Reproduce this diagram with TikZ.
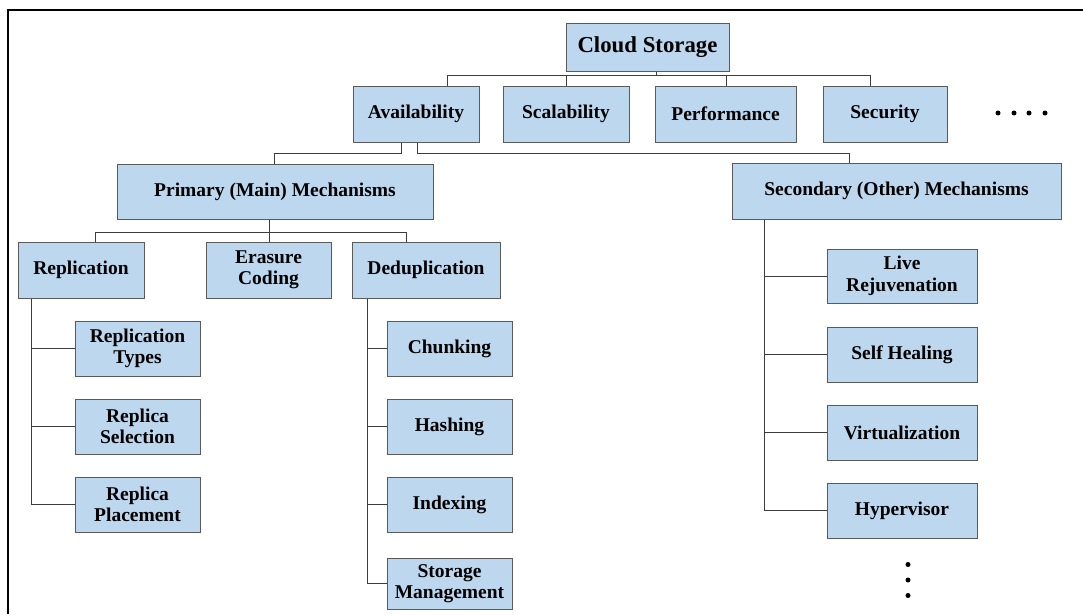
\documentclass[tikz,border=0pt]{standalone}
\usepackage{fontspec}
\setmainfont{Liberation Serif}
\definecolor{boxfill}{RGB}{189,215,238}
\definecolor{boxline}{RGB}{90,90,90}
\definecolor{connline}{RGB}{60,60,60}
\begin{document}
\begin{tikzpicture}[x=1pt,y=-1pt,
  box/.style={draw=boxline,fill=boxfill,line width=1pt,inner sep=0pt,align=center,
    font=\bfseries\fontsize{19.5}{21.5}\selectfont},
  conn/.style={draw=connline,line width=0.9pt},
  dotmark/.style={circle,fill=black,inner sep=0pt,minimum size=5pt}]
\useasboundingbox (0,0) rectangle (1083,614);
\draw[line width=2pt] (8,614) -- (8,10) -- (1083,10);

% level 0/1
\node[box,minimum width=163pt,minimum height=48pt,font=\bfseries\fontsize{22.8}{25}\selectfont] (cs) at (647.5,47) {Cloud Storage};
\node[box,minimum width=126pt,minimum height=56pt] (avail) at (416,114) {Availability};
\node[box,minimum width=126pt,minimum height=56pt] (scal) at (566,114) {Scalability};
\node[box,minimum width=141pt,minimum height=56pt] (perf) at (725.5,114) {Performance};
\node[box,minimum width=124pt,minimum height=56pt] (secu) at (885,114) {Security};
\node[dotmark] (d1) at (998,113) {};
\node[dotmark] (d2) at (1014,113) {};
\node[dotmark] (d3) at (1029,113) {};
\node[dotmark] (d4) at (1045,113) {};

% level 2
\node[box,minimum width=316pt,minimum height=55pt] (prim) at (275,191.5) {Primary (Main) Mechanisms};
\node[box,minimum width=329pt,minimum height=56pt] (sec) at (896.5,191) {Secondary (Other) Mechanisms};

% level 3
\node[box,minimum width=126pt,minimum height=56pt] (rep) at (81,270) {Replication};
\node[box,minimum width=125pt,minimum height=56pt] (ero) at (268.5,270) {Erasure\\Coding};
\node[box,minimum width=148pt,minimum height=56pt] (ded) at (426,270) {Deduplication};

% replication children
\node[box,minimum width=125pt,minimum height=55pt] (rt) at (137.5,348.5) {Replication\\Types};
\node[box,minimum width=125pt,minimum height=55pt] (rs) at (137.5,426.5) {Replica\\Selection};
\node[box,minimum width=125pt,minimum height=55pt] (rp) at (137.5,504.5) {Replica\\Placement};

% dedup children
\node[box,minimum width=125pt,minimum height=55pt] (ch) at (449.5,348.5) {Chunking};
\node[box,minimum width=125pt,minimum height=55pt] (ha) at (449.5,426.5) {Hashing};
\node[box,minimum width=125pt,minimum height=55pt] (ix) at (449.5,504.5) {Indexing};
\node[box,minimum width=125pt,minimum height=51pt] (sm) at (449.5,583.5) {Storage\\Management};

% secondary children
\node[box,minimum width=150pt,minimum height=54pt] (lr) at (902,276) {Live\\Rejuvenation};
\node[box,minimum width=150pt,minimum height=55pt] (sh) at (902,354.5) {Self Healing};
\node[box,minimum width=150pt,minimum height=55pt] (vi) at (902,432.5) {Virtualization};
\node[box,minimum width=150pt,minimum height=55pt] (hy) at (902,510.5) {Hypervisor};
\node[dotmark] (v1) at (908,564.5) {};
\node[dotmark] (v2) at (908,580) {};
\node[dotmark] (v3) at (908,595.5) {};

% connectors level 1
\draw[conn] (cs.south -| 656,0) -- (656,75);
\draw[conn] (avail.north -| 447,0) -- (447,75) -- (870,75) -- (secu.north -| 870,0);
\draw[conn] (scal.north -| 566,0) -- (566,75);
\draw[conn] (perf.north -| 726,0) -- (726,75);

% availability to mechanisms
\draw[conn] (avail.south -| 401,0) -- (401,153) -- (274,153) -- (prim.north -| 274,0);
\draw[conn] (avail.south -| 417,0) -- (417,153) -- (849,153) -- (sec.north -| 849,0);

% primary to children
\draw[conn] (prim.south -| 269,0) -- (ero.north -| 269,0);
\draw[conn] (rep.north -| 95,0) -- (95,232) -- (406,232) -- (ded.north -| 406,0);

% replication tree
\draw[conn] (rep.south -| 31,0) |- (rp.west);
\draw[conn] (rt.west -| 31,0) -- (rt.west);
\draw[conn] (rs.west -| 31,0) -- (rs.west);

% dedup tree
\draw[conn] (ded.south -| 367,0) |- (sm.west);
\draw[conn] (ch.west -| 367,0) -- (ch.west);
\draw[conn] (ha.west -| 367,0) -- (ha.west);
\draw[conn] (ix.west -| 367,0) -- (ix.west);

% secondary tree
\draw[conn] (sec.south -| 764,0) |- (hy.west);
\draw[conn] (lr.west -| 764,0) -- (lr.west);
\draw[conn] (sh.west -| 764,0) -- (sh.west);
\draw[conn] (vi.west -| 764,0) -- (vi.west);
\end{tikzpicture}
\end{document}
